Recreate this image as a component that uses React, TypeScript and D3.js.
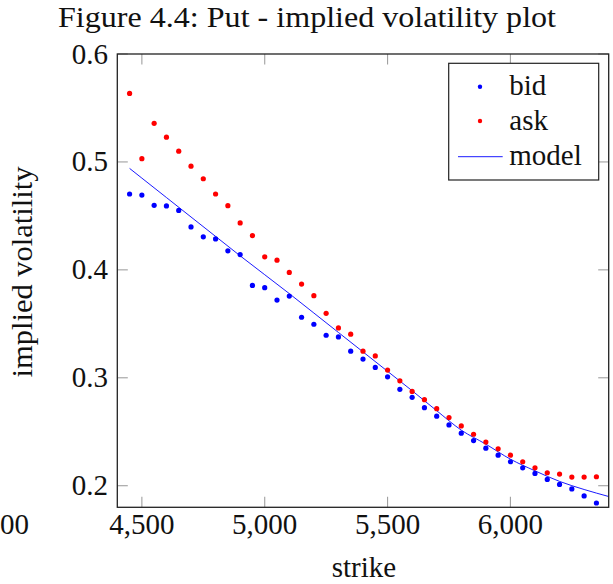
import React from "react";
import * as d3 from "d3";

const strikes: number[] = [
  4450, 4500, 4550, 4600, 4650, 4700, 4750, 4800, 4850, 4900,
  4950, 5000, 5050, 5100, 5150, 5200, 5250, 5300, 5350, 5400,
  5450, 5500, 5550, 5600, 5650, 5700, 5750, 5800, 5850, 5900,
  5950, 6000, 6050, 6100, 6150, 6200, 6250, 6300, 6350,
];

const bidValues: number[] = [
  0.4703, 0.4693, 0.4598, 0.4592, 0.4551, 0.4398, 0.4306, 0.4287, 0.4176, 0.4142,
  0.3856, 0.3835, 0.372, 0.3757, 0.3561, 0.3496, 0.3394, 0.3379, 0.3247, 0.3173,
  0.3096, 0.3009, 0.2893, 0.2819, 0.2723, 0.2644, 0.2563, 0.2487, 0.2418, 0.2348,
  0.2283, 0.2222, 0.2166, 0.2114, 0.2058, 0.2012, 0.197, 0.1905, 0.184,
];

const askValues: number[] = [
  0.5635, 0.503, 0.5358, 0.5229, 0.51, 0.4961, 0.4844, 0.4703, 0.4595, 0.4435,
  0.4318, 0.4121, 0.409, 0.3976, 0.3868, 0.3761, 0.3597, 0.3462, 0.3404, 0.3247,
  0.3203, 0.3071, 0.2972, 0.2874, 0.2797, 0.2714, 0.2631, 0.2554, 0.2477, 0.2404,
  0.2342, 0.2283, 0.2222, 0.2166, 0.212, 0.2108, 0.208, 0.208, 0.2083,
];

const modelStrikes: number[] = [
  4450, 4500, 4600, 4700, 4800, 4900, 5000, 5100, 5200, 5300, 5400,
  5500, 5600, 5700, 5800, 5900, 6000, 6100, 6200, 6300, 6400,
];
const modelValues: number[] = [
  0.494, 0.485, 0.467, 0.449, 0.431, 0.413, 0.3955, 0.378, 0.36, 0.342, 0.324,
  0.306, 0.288, 0.2695, 0.2515, 0.2385, 0.2246, 0.2138, 0.204, 0.1965, 0.19,
];

const xTicks: number[] = [4500, 5000, 5500, 6000];
const yTicks: number[] = [0.2, 0.3, 0.4, 0.5, 0.6];
const seriesNames: string[] = ["bid", "ask", "model"];

const W = 613;
const H = 584;
const FONT = "'Liberation Serif', 'Times New Roman', serif";

export default function App() {
  const left = 117.3, right = 608.7, top = 54, bottom = 507.3;
  const x = d3.scaleLinear().domain([4400, 6400]).range([left, right]);
  const y = d3.scaleLinear().domain([0.18, 0.6]).range([bottom, top]);
  const fmt = d3.format(",");
  const tickLen = 10.5;

  const modelPath = d3
    .line<number>()
    .x((_, i) => x(modelStrikes[i]))
    .y((d) => y(d))
    .curve(d3.curveMonotoneX)(modelValues) as string;

  return (
    <svg
      width={W}
      height={H}
      style={{ position: "absolute", left: 0, top: 0, background: "#fff" }}
      fontFamily={FONT}
    >
      <defs>
        <clipPath id="plotclip">
          <rect x={left} y={top} width={right - left} height={bottom - top} />
        </clipPath>
      </defs>
      <rect x={0} y={0} width={W} height={H} fill="#fff" />
      <text x={307} y={27} fontSize={29} textAnchor="middle" textLength={498} lengthAdjust="spacingAndGlyphs" fill="#111">
        Figure 4.4: Put - implied volatility plot
      </text>

      {/* ticks */}
      {xTicks.map((t) => (
        <g key={"xt" + t} stroke="#a0a0a0" strokeWidth={1.1}>
          <line x1={x(t)} x2={x(t)} y1={bottom} y2={bottom - tickLen} />
          <line x1={x(t)} x2={x(t)} y1={top} y2={top + tickLen} />
        </g>
      ))}
      {yTicks.map((t) => (
        <g key={"yt" + t} stroke="#a0a0a0" strokeWidth={1.1}>
          <line x1={left} x2={left + tickLen} y1={y(t)} y2={y(t)} />
          <line x1={right} x2={right - tickLen} y1={y(t)} y2={y(t)} />
        </g>
      ))}

      {/* data */}
      <g clipPath="url(#plotclip)">
        <path d={modelPath} fill="none" stroke="#0000ff" strokeWidth={0.9} />
        {strikes.map((s, i) => (
          <circle key={"b" + s} cx={x(s)} cy={y(bidValues[i])} r={2.6} fill="#0000ff" />
        ))}
        {strikes.map((s, i) => (
          <circle key={"a" + s} cx={x(s)} cy={y(askValues[i])} r={2.6} fill="#ff0000" />
        ))}
      </g>

      {/* frame */}
      <rect x={left} y={top} width={right - left} height={bottom - top} fill="none" stroke="#222" strokeWidth={1.3} />

      {/* tick labels */}
      {xTicks.map((t) => (
        <text key={"xl" + t} x={x(t)} y={534} fontSize={29} textAnchor="middle" fill="#111">
          {fmt(t)}
        </text>
      ))}
      <text x={29} y={534} fontSize={29} textAnchor="end" fill="#111">
        {fmt(4000)}
      </text>
      {yTicks.map((t) => (
        <text key={"yl" + t} x={108} y={y(t) + 9.5} fontSize={29} textAnchor="end" fill="#111">
          {t.toFixed(1)}
        </text>
      ))}

      {/* axis labels */}
      <text x={364} y={577} fontSize={29} textAnchor="middle" fill="#111">
        strike
      </text>
      <text
        transform={`translate(32, ${272}) rotate(-90)`}
        fontSize={29}
        textAnchor="middle"
        textLength={211}
        lengthAdjust="spacingAndGlyphs"
        fill="#111"
      >
        implied volatility
      </text>

      {/* legend */}
      <rect x={448.7} y={63.3} width={150} height={116.7} fill="#fff" stroke="#222" strokeWidth={1.2} />
      <circle cx={480} cy={86.7} r={2.2} fill="#0000ff" />
      <circle cx={480} cy={121} r={2.2} fill="#ff0000" />
      <line x1={458} x2={502.7} y1={156.7} y2={156.7} stroke="#0000ff" strokeWidth={0.9} />
      {seriesNames.map((n, i) => (
        <text key={n} x={509.3} y={95 + i * 35} fontSize={29} fill="#111">
          {n}
        </text>
      ))}
    </svg>
  );
}
